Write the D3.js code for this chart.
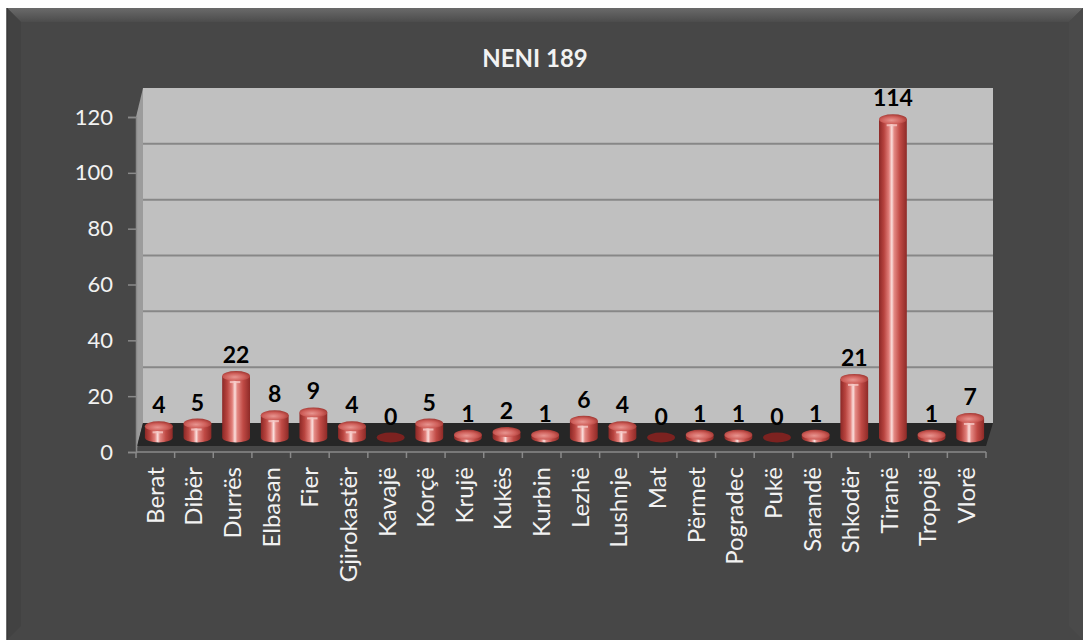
<!DOCTYPE html>
<html><head><meta charset="utf-8">
<script src="https://cdn.jsdelivr.net/npm/d3@7/dist/d3.min.js"></script>
<style>
html,body{margin:0;padding:0;background:#fff;}
svg{display:block;}
</style></head>
<body>
<svg id="chart" width="1086" height="642"></svg>
<script>
const title = "NENI 189";
const categories = ["Berat","Dibër","Durrës","Elbasan","Fier","Gjirokastër","Kavajë","Korçë","Krujë","Kukës","Kurbin","Lezhë","Lushnje","Mat","Përmet","Pogradec","Pukë","Sarandë","Shkodër","Tiranë","Tropojë","Vlorë"];
const values = [4,5,22,8,9,4,0,5,1,2,1,6,4,0,1,1,0,1,21,114,1,7];
const yTicks = [0,20,40,60,80,100,120];

const svg = d3.select("#chart");
const font = "Lato, 'Open Sans', sans-serif";

// panel
const defs = svg.append("defs");
const bev = defs.append("linearGradient").attr("id","bev").attr("x1",0).attr("y1",0).attr("x2",0).attr("y2",1);
bev.append("stop").attr("offset","0%").attr("stop-color","#6a6a6a");
bev.append("stop").attr("offset","100%").attr("stop-color","#4c4c4c");

svg.append("rect").attr("x",7).attr("y",8).attr("width",1076).attr("height",632).attr("fill","#474747");
svg.append("polygon").attr("points","7,8 1083,8 1069,22 21,22").attr("fill","url(#bev)");
svg.append("polygon").attr("points","7,8 21,22 21,626 7,640").attr("fill","#424242");
svg.append("polygon").attr("points","1083,8 1069,22 1069,626 1083,640").attr("fill","#4a4a4a");
svg.append("line").attr("x1",7).attr("y1",8).attr("x2",7).attr("y2",640).attr("stroke","#3a3a3a").attr("stroke-width",1.5);

// scales
const x0 = 136, x1 = 986;
const x = d3.scaleBand().domain(categories).range([x0, x1]).padding(0);
const y = d3.scaleLinear().domain([0,120]).range([452,117]);
const DX = 7, DY = -29;

// back wall
svg.append("rect").attr("x",x0+DX).attr("y",y(120)+DY).attr("width",x1-x0).attr("height",y(0)-y(120)).attr("fill","#c0c0c0");
// side wall
svg.append("polygon").attr("points",[[x0,y(120)],[x0+DX,y(120)+DY],[x0+DX,y(0)+DY],[x0,y(0)]].map(p=>p.join(",")).join(" "))
  .attr("fill","#9c9c9c");
// gridlines
svg.append("g").selectAll("line").data(yTicks.filter(t=>t>0 && t<120)).join("line")
  .attr("x1",x0+DX).attr("x2",x1+DX).attr("y1",d=>y(d)+DY).attr("y2",d=>y(d)+DY)
  .attr("stroke","#878787").attr("stroke-width",2);
// floor
svg.append("polygon").attr("points",[[x0+1,y(0)-6],[x1,y(0)-6],[x1+DX,y(0)+DY],[x0+DX,y(0)+DY]].map(p=>p.join(",")).join(" "))
  .attr("fill","#262626");

// y axis
const yAxis = svg.append("g").attr("transform",`translate(${x0},0)`)
  .call(d3.axisLeft(y).tickValues(yTicks).tickSize(8).tickPadding(15));
yAxis.select(".domain").attr("stroke","#8a8a8a").attr("stroke-width",1.5);
yAxis.selectAll(".tick line").attr("stroke","#8a8a8a").attr("stroke-width",1.5);
yAxis.selectAll(".tick text").attr("fill","#f2f2f2").style("font-family",font).style("font-size","22px");

// x axis baseline and boundary ticks
svg.append("line").attr("x1",x0).attr("x2",x1).attr("y1",y(0)).attr("y2",y(0)).attr("stroke","#8a8a8a").attr("stroke-width",1.5);
const bounds = categories.map(c=>x(c)).concat([x1]);
svg.append("g").selectAll("line").data(bounds).join("line")
  .attr("x1",d=>d).attr("x2",d=>d).attr("y1",y(0)).attr("y2",y(0)+6)
  .attr("stroke","#8a8a8a").attr("stroke-width",1.5);

const xAxis = svg.append("g").attr("transform",`translate(0,${y(0)})`)
  .call(d3.axisBottom(x).tickSize(0));
xAxis.select(".domain").remove();
xAxis.selectAll(".tick text")
  .attr("transform","rotate(-90)")
  .attr("x",-15).attr("y",0).attr("dy","0.35em")
  .attr("text-anchor","end")
  .attr("fill","#f2f2f2").style("font-family",font).style("font-size","24px");

// bar gradients
const bg = defs.append("linearGradient").attr("id","barg").attr("x1",0).attr("y1",0).attr("x2",1).attr("y2",0);
[["0%","#8c2826"],["18%","#b8443f"],["36%","#e2807b"],["46%","#fbe0de"],["54%","#e48a85"],["75%","#c04a45"],["100%","#8e2a27"]]
  .forEach(s=>bg.append("stop").attr("offset",s[0]).attr("stop-color",s[1]));
const tg = defs.append("radialGradient").attr("id","topg").attr("cx","45%").attr("cy","60%").attr("r","60%");
[["0%","#e89590"],["60%","#cf5f5a"],["100%","#a33833"]].forEach(s=>tg.append("stop").attr("offset",s[0]).attr("stop-color",s[1]));

const bw = x.bandwidth()*0.72, rx = bw/2, ry = 5;
const mx = DX/2, my = DY/2;
const bars = svg.append("g");
categories.forEach((c,i)=>{
  const v = values[i];
  const cx = x(c) + x.bandwidth()/2 + mx;
  const yb = y(0) + my;
  const yt = y(v) + my;
  const g = bars.append("g");
  if (v > 0) {
    g.append("path")
      .attr("d",`M${cx-rx},${yt} L${cx-rx},${yb} A${rx},${ry} 0 0 0 ${cx+rx},${yb} L${cx+rx},${yt} Z`)
      .attr("fill","url(#barg)");
    g.append("ellipse").attr("cx",cx).attr("cy",yt).attr("rx",rx).attr("ry",ry).attr("fill","url(#topg)");
    if (v > 2) g.append("path").attr("d",`M${cx-rx*0.45},${yt+ry+1} L${cx+rx*0.3},${yt+ry+1}`).attr("stroke","#f6c8c5").attr("stroke-width",2).attr("opacity",0.8);
  } else {
    g.append("ellipse").attr("cx",cx).attr("cy",yb).attr("rx",rx).attr("ry",ry).attr("fill","#7c2220");
  }
  g.append("text").attr("x",cx).attr("y",yt - ry - 8)
    .attr("text-anchor","middle").attr("fill","#000")
    .style("font-family",font).style("font-weight","bold").style("font-size","23px")
    .text(v);
});

// title
svg.append("text").attr("x",535).attr("y",67).attr("text-anchor","middle")
  .attr("fill","#f2f2f2").style("font-family",font).style("font-weight","bold").style("font-size","24px")
  .text(title);
</script>
</body></html>
